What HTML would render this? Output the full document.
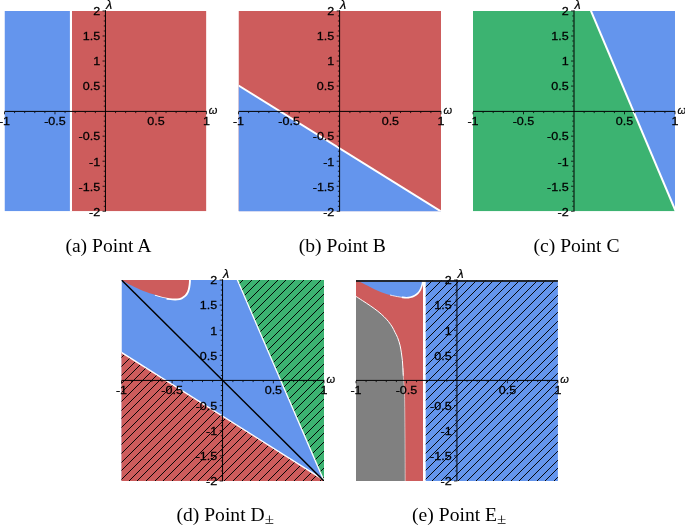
<!DOCTYPE html>
<html><head><meta charset="utf-8"><style>
html,body{margin:0;padding:0;background:#fff;width:685px;height:525px;overflow:hidden}
svg{position:absolute;left:0;top:0;display:block;will-change:transform}
.tk text{font-family:"Liberation Sans",sans-serif;font-size:11px;fill:#000;stroke:#000;stroke-width:0.25px}
.al{font-family:"Liberation Sans",sans-serif;font-style:italic;font-size:11px;fill:#000;stroke:#000;stroke-width:0.2px}
.cap{font-family:"Liberation Serif",serif;font-size:18px;fill:#000}
.sub{font-size:15.5px}
</style></head><body>
<svg width="685" height="525" viewBox="0 0 685 525">
<defs><clipPath id="ca"><rect x="4.5" y="10.95" width="201.9" height="200.35"/></clipPath><clipPath id="cb"><rect x="238.5" y="10.95" width="202.5" height="200.35"/></clipPath><clipPath id="cc"><rect x="473" y="10.95" width="202" height="200.35"/></clipPath><clipPath id="cd"><rect x="121.5" y="280" width="202.5" height="201"/></clipPath><clipPath id="ce"><rect x="356" y="280" width="201.9" height="201"/></clipPath><pattern id="hd" patternUnits="userSpaceOnUse" x="0" y="0" width="685" height="525"><path d="M-91 483L114 278M-82 483L123 278M-73 483L132 278M-64 483L141 278M-56 483L149 278M-47 483L158 278M-38 483L167 278M-30 483L175 278M-21 483L184 278M-12 483L193 278M-4 483L201 278M5 483L210 278M14 483L219 278M22 483L227 278M31 483L236 278M40 483L245 278M49 483L254 278M57 483L262 278M66 483L271 278M75 483L280 278M83 483L288 278M92 483L297 278M101 483L306 278M109 483L314 278M118 483L323 278M127 483L332 278M135 483L340 278M144 483L349 278M153 483L358 278M161 483L366 278M170 483L375 278M179 483L384 278M188 483L393 278M196 483L401 278M205 483L410 278M214 483L419 278M222 483L427 278M231 483L436 278M240 483L445 278M248 483L453 278M257 483L462 278M266 483L471 278M274 483L479 278M283 483L488 278M292 483L497 278M301 483L506 278M309 483L514 278M318 483L523 278M327 483L532 278" stroke="#000" stroke-width="0.95"/></pattern><pattern id="he" patternUnits="userSpaceOnUse" x="0" y="0" width="685" height="525"><path d="M144 483L349 278M152 483L357 278M161 483L366 278M170 483L375 278M178 483L383 278M187 483L392 278M196 483L401 278M204 483L409 278M213 483L418 278M222 483L427 278M230 483L435 278M239 483L444 278M248 483L453 278M257 483L462 278M265 483L470 278M274 483L479 278M283 483L488 278M291 483L496 278M300 483L505 278M309 483L514 278M317 483L522 278M326 483L531 278M335 483L540 278M343 483L548 278M352 483L557 278M361 483L566 278M370 483L575 278M378 483L583 278M387 483L592 278M396 483L601 278M404 483L609 278M413 483L618 278M422 483L627 278M430 483L635 278M439 483L644 278M448 483L653 278M456 483L661 278M465 483L670 278M474 483L679 278M483 483L688 278M491 483L696 278M500 483L705 278M509 483L714 278M517 483L722 278M526 483L731 278M535 483L740 278M543 483L748 278M552 483L757 278M561 483L766 278" stroke="#000" stroke-width="0.95"/></pattern></defs>
<g clip-path="url(#ca)"><rect x="4.5" y="10.95" width="66.45" height="200.35" fill="#6495ed"/><rect x="70.95" y="10.95" width="135.45" height="200.35" fill="#cd5c5c"/><line x1="70.95" y1="9.95" x2="70.95" y2="212.3" stroke="#fff" stroke-width="2.1"/></g><path d="M4.5 111.4H206.8M105.45 10.15V211.7" stroke="#000" stroke-width="1" fill="none"/><path d="M4.5 111.9v2.4M14.59 111.9v1.2M24.69 111.9v1.2M34.79 111.9v1.2M44.88 111.9v1.2M54.98 111.9v2.4M65.07 111.9v1.2M75.16 111.9v1.2M85.26 111.9v1.2M95.36 111.9v1.2M115.55 111.9v1.2M125.64 111.9v1.2M135.74 111.9v1.2M145.83 111.9v1.2M155.93 111.9v2.4M166.02 111.9v1.2M176.12 111.9v1.2M186.21 111.9v1.2M196.31 111.9v1.2M206.4 111.9v2.4M104.95 211.3h-2.4M104.95 206.29h-1.2M104.95 201.28h-1.2M104.95 196.27h-1.2M104.95 191.27h-1.2M104.95 186.26h-2.4M104.95 181.25h-1.2M104.95 176.24h-1.2M104.95 171.23h-1.2M104.95 166.22h-1.2M104.95 161.21h-2.4M104.95 156.2h-1.2M104.95 151.19h-1.2M104.95 146.19h-1.2M104.95 141.18h-1.2M104.95 136.17h-2.4M104.95 131.16h-1.2M104.95 126.15h-1.2M104.95 121.14h-1.2M104.95 116.13h-1.2M104.95 106.12h-1.2M104.95 101.11h-1.2M104.95 96.1h-1.2M104.95 91.09h-1.2M104.95 86.08h-2.4M104.95 81.07h-1.2M104.95 76.06h-1.2M104.95 71.06h-1.2M104.95 66.05h-1.2M104.95 61.04h-2.4M104.95 56.03h-1.2M104.95 51.02h-1.2M104.95 46.01h-1.2M104.95 41h-1.2M104.95 35.99h-2.4M104.95 30.98h-1.2M104.95 25.98h-1.2M104.95 20.97h-1.2M104.95 15.96h-1.2M104.95 10.95h-2.4" stroke="#000" stroke-width="0.8" fill="none"/><g class="tk"><text transform="translate(4.5 124.8) scale(1.14 1)" text-anchor="middle">-1</text><text transform="translate(54.98 124.8) scale(1.14 1)" text-anchor="middle">-0.5</text><text transform="translate(155.93 124.8) scale(1.14 1)" text-anchor="middle">0.5</text><text transform="translate(206.4 124.8) scale(1.14 1)" text-anchor="middle">1</text><text transform="translate(100.15 15.25) scale(1.14 1)" text-anchor="end">2</text><text transform="translate(100.15 40.29) scale(1.14 1)" text-anchor="end">1.5</text><text transform="translate(100.15 65.34) scale(1.14 1)" text-anchor="end">1</text><text transform="translate(100.15 90.38) scale(1.14 1)" text-anchor="end">0.5</text><text transform="translate(100.15 140.47) scale(1.14 1)" text-anchor="end">-0.5</text><text transform="translate(100.15 165.51) scale(1.14 1)" text-anchor="end">-1</text><text transform="translate(100.15 190.56) scale(1.14 1)" text-anchor="end">-1.5</text><text transform="translate(100.15 215.6) scale(1.14 1)" text-anchor="end">-2</text></g><text class="al" x="105.95" y="8.8" style="font-size:12.5px">&#955;</text><text class="al" x="208.8" y="113.8">&#969;</text>
<g clip-path="url(#cb)"><rect x="238.5" y="10.95" width="202.5" height="200.35" fill="#cd5c5c"/><polygon points="238.5,85.5 441,211.4 441,213.3 238.5,213.3" fill="#6495ed"/><line x1="238.5" y1="85.5" x2="441" y2="211.4" stroke="#fff" stroke-width="2"/></g><path d="M238.5 111.4H441.4M339.6 10.15V211.7" stroke="#000" stroke-width="1" fill="none"/><path d="M238.5 111.9v2.4M248.62 111.9v1.2M258.75 111.9v1.2M268.88 111.9v1.2M279 111.9v1.2M289.12 111.9v2.4M299.25 111.9v1.2M309.38 111.9v1.2M319.5 111.9v1.2M329.62 111.9v1.2M349.88 111.9v1.2M360 111.9v1.2M370.12 111.9v1.2M380.25 111.9v1.2M390.38 111.9v2.4M400.5 111.9v1.2M410.62 111.9v1.2M420.75 111.9v1.2M430.88 111.9v1.2M441 111.9v2.4M339.1 211.3h-2.4M339.1 206.29h-1.2M339.1 201.28h-1.2M339.1 196.27h-1.2M339.1 191.27h-1.2M339.1 186.26h-2.4M339.1 181.25h-1.2M339.1 176.24h-1.2M339.1 171.23h-1.2M339.1 166.22h-1.2M339.1 161.21h-2.4M339.1 156.2h-1.2M339.1 151.19h-1.2M339.1 146.19h-1.2M339.1 141.18h-1.2M339.1 136.17h-2.4M339.1 131.16h-1.2M339.1 126.15h-1.2M339.1 121.14h-1.2M339.1 116.13h-1.2M339.1 106.12h-1.2M339.1 101.11h-1.2M339.1 96.1h-1.2M339.1 91.09h-1.2M339.1 86.08h-2.4M339.1 81.07h-1.2M339.1 76.06h-1.2M339.1 71.06h-1.2M339.1 66.05h-1.2M339.1 61.04h-2.4M339.1 56.03h-1.2M339.1 51.02h-1.2M339.1 46.01h-1.2M339.1 41h-1.2M339.1 35.99h-2.4M339.1 30.98h-1.2M339.1 25.98h-1.2M339.1 20.97h-1.2M339.1 15.96h-1.2M339.1 10.95h-2.4" stroke="#000" stroke-width="0.8" fill="none"/><g class="tk"><text transform="translate(238.5 124.8) scale(1.14 1)" text-anchor="middle">-1</text><text transform="translate(289.12 124.8) scale(1.14 1)" text-anchor="middle">-0.5</text><text transform="translate(390.38 124.8) scale(1.14 1)" text-anchor="middle">0.5</text><text transform="translate(441 124.8) scale(1.14 1)" text-anchor="middle">1</text><text transform="translate(334.3 15.25) scale(1.14 1)" text-anchor="end">2</text><text transform="translate(334.3 40.29) scale(1.14 1)" text-anchor="end">1.5</text><text transform="translate(334.3 65.34) scale(1.14 1)" text-anchor="end">1</text><text transform="translate(334.3 90.38) scale(1.14 1)" text-anchor="end">0.5</text><text transform="translate(334.3 140.47) scale(1.14 1)" text-anchor="end">-0.5</text><text transform="translate(334.3 165.51) scale(1.14 1)" text-anchor="end">-1</text><text transform="translate(334.3 190.56) scale(1.14 1)" text-anchor="end">-1.5</text><text transform="translate(334.3 215.6) scale(1.14 1)" text-anchor="end">-2</text></g><text class="al" x="340.1" y="8.8" style="font-size:12.5px">&#955;</text><text class="al" x="443.4" y="113.8">&#969;</text>
<g clip-path="url(#cc)"><rect x="473" y="10.95" width="202" height="200.35" fill="#3cb371"/><polygon points="590.15,8.95 678,8.95 678,214.3 676.98,214.3" fill="#6495ed"/><line x1="590.15" y1="8.95" x2="676.98" y2="214.3" stroke="#fff" stroke-width="2"/></g><path d="M473 111.4H675.4M574 10.15V211.7" stroke="#000" stroke-width="1" fill="none"/><path d="M473 111.9v2.4M483.1 111.9v1.2M493.2 111.9v1.2M503.3 111.9v1.2M513.4 111.9v1.2M523.5 111.9v2.4M533.6 111.9v1.2M543.7 111.9v1.2M553.8 111.9v1.2M563.9 111.9v1.2M584.1 111.9v1.2M594.2 111.9v1.2M604.3 111.9v1.2M614.4 111.9v1.2M624.5 111.9v2.4M634.6 111.9v1.2M644.7 111.9v1.2M654.8 111.9v1.2M664.9 111.9v1.2M675 111.9v2.4M573.5 211.3h-2.4M573.5 206.29h-1.2M573.5 201.28h-1.2M573.5 196.27h-1.2M573.5 191.27h-1.2M573.5 186.26h-2.4M573.5 181.25h-1.2M573.5 176.24h-1.2M573.5 171.23h-1.2M573.5 166.22h-1.2M573.5 161.21h-2.4M573.5 156.2h-1.2M573.5 151.19h-1.2M573.5 146.19h-1.2M573.5 141.18h-1.2M573.5 136.17h-2.4M573.5 131.16h-1.2M573.5 126.15h-1.2M573.5 121.14h-1.2M573.5 116.13h-1.2M573.5 106.12h-1.2M573.5 101.11h-1.2M573.5 96.1h-1.2M573.5 91.09h-1.2M573.5 86.08h-2.4M573.5 81.07h-1.2M573.5 76.06h-1.2M573.5 71.06h-1.2M573.5 66.05h-1.2M573.5 61.04h-2.4M573.5 56.03h-1.2M573.5 51.02h-1.2M573.5 46.01h-1.2M573.5 41h-1.2M573.5 35.99h-2.4M573.5 30.98h-1.2M573.5 25.98h-1.2M573.5 20.97h-1.2M573.5 15.96h-1.2M573.5 10.95h-2.4" stroke="#000" stroke-width="0.8" fill="none"/><g class="tk"><text transform="translate(473 124.8) scale(1.14 1)" text-anchor="middle">-1</text><text transform="translate(523.5 124.8) scale(1.14 1)" text-anchor="middle">-0.5</text><text transform="translate(624.5 124.8) scale(1.14 1)" text-anchor="middle">0.5</text><text transform="translate(675 124.8) scale(1.14 1)" text-anchor="middle">1</text><text transform="translate(568.7 15.25) scale(1.14 1)" text-anchor="end">2</text><text transform="translate(568.7 40.29) scale(1.14 1)" text-anchor="end">1.5</text><text transform="translate(568.7 65.34) scale(1.14 1)" text-anchor="end">1</text><text transform="translate(568.7 90.38) scale(1.14 1)" text-anchor="end">0.5</text><text transform="translate(568.7 140.47) scale(1.14 1)" text-anchor="end">-0.5</text><text transform="translate(568.7 165.51) scale(1.14 1)" text-anchor="end">-1</text><text transform="translate(568.7 190.56) scale(1.14 1)" text-anchor="end">-1.5</text><text transform="translate(568.7 215.6) scale(1.14 1)" text-anchor="end">-2</text></g><text class="al" x="574.5" y="8.8" style="font-size:12.5px">&#955;</text><text class="al" x="677.4" y="113.8">&#969;</text>
<g clip-path="url(#cd)"><rect x="121.5" y="280" width="202.5" height="201" fill="#6495ed"/><path d="M155 294.8C155.97 295.08 158.85 296 160.8 296.5C162.75 297 164.75 297.48 166.7 297.8C168.65 298.12 171.53 298.3 172.5 298.4" fill="none" stroke="#fff" stroke-width="1.6"/><path d="M166.7 297.8C167.67 297.9 170.75 298.3 172.5 298.4C174.25 298.5 175.73 298.57 177.2 298.4C178.67 298.23 180.03 297.97 181.3 297.4C182.57 296.83 183.83 295.98 184.8 295C185.77 294.02 186.52 292.78 187.1 291.5C187.68 290.22 188 288.77 188.3 287.3C188.6 285.83 188.78 284.08 188.9 282.7C189.02 281.32 188.98 279.62 189 279" fill="none" stroke="#fff" stroke-width="3.8"/><path d="M121.5 279.8C121.63 279.87 120.6 279.23 122.3 280.2C124 281.17 128.18 283.8 131.7 285.6C135.22 287.4 139.52 289.47 143.4 291C147.28 292.53 152.1 293.88 155 294.8C157.9 295.72 158.85 296 160.8 296.5C162.75 297 164.75 297.48 166.7 297.8C168.65 298.12 170.75 298.3 172.5 298.4C174.25 298.5 175.73 298.57 177.2 298.4C178.67 298.23 180.03 297.97 181.3 297.4C182.57 296.83 183.83 295.98 184.8 295C185.77 294.02 186.52 292.78 187.1 291.5C187.68 290.22 188 288.77 188.3 287.3C188.6 285.83 188.78 284.08 188.9 282.7C189.02 281.32 188.98 279.62 189 279L189 278L121 278Z" fill="#cd5c5c"/><polygon points="119.5,351.12 326,481.42 326,483 119.5,483" fill="#cd5c5c"/><polygon points="119.5,351.12 326,481.42 326,483 119.5,483" fill="url(#hd)"/><polygon points="236.54,278 326,278 326,483 324.86,483" fill="#3cb371"/><polygon points="236.54,278 326,278 326,483 324.86,483" fill="url(#hd)"/><line x1="119.5" y1="351.12" x2="326" y2="481.42" stroke="#fff" stroke-width="1.4"/><line x1="236.54" y1="278" x2="324.86" y2="483" stroke="#fff" stroke-width="1.3"/><line x1="120.5" y1="279" x2="325" y2="482" stroke="#000" stroke-width="1.5"/></g><path d="M121.5 380.4H324.4M222.55 279.2V481.4" stroke="#000" stroke-width="1" fill="none"/><path d="M121.5 380.9v2.4M131.62 380.9v1.2M141.75 380.9v1.2M151.88 380.9v1.2M162 380.9v1.2M172.12 380.9v2.4M182.25 380.9v1.2M192.38 380.9v1.2M202.5 380.9v1.2M212.62 380.9v1.2M232.88 380.9v1.2M243 380.9v1.2M253.12 380.9v1.2M263.25 380.9v1.2M273.38 380.9v2.4M283.5 380.9v1.2M293.62 380.9v1.2M303.75 380.9v1.2M313.88 380.9v1.2M324 380.9v2.4M222.05 481h-2.4M222.05 475.98h-1.2M222.05 470.95h-1.2M222.05 465.93h-1.2M222.05 460.9h-1.2M222.05 455.88h-2.4M222.05 450.85h-1.2M222.05 445.82h-1.2M222.05 440.8h-1.2M222.05 435.77h-1.2M222.05 430.75h-2.4M222.05 425.73h-1.2M222.05 420.7h-1.2M222.05 415.68h-1.2M222.05 410.65h-1.2M222.05 405.62h-2.4M222.05 400.6h-1.2M222.05 395.57h-1.2M222.05 390.55h-1.2M222.05 385.52h-1.2M222.05 375.48h-1.2M222.05 370.45h-1.2M222.05 365.43h-1.2M222.05 360.4h-1.2M222.05 355.38h-2.4M222.05 350.35h-1.2M222.05 345.32h-1.2M222.05 340.3h-1.2M222.05 335.27h-1.2M222.05 330.25h-2.4M222.05 325.23h-1.2M222.05 320.2h-1.2M222.05 315.18h-1.2M222.05 310.15h-1.2M222.05 305.12h-2.4M222.05 300.1h-1.2M222.05 295.07h-1.2M222.05 290.05h-1.2M222.05 285.02h-1.2M222.05 280h-2.4" stroke="#000" stroke-width="0.8" fill="none"/><g class="tk"><text transform="translate(121.5 393.8) scale(1.14 1)" text-anchor="middle">-1</text><text transform="translate(172.12 393.8) scale(1.14 1)" text-anchor="middle">-0.5</text><text transform="translate(273.38 393.8) scale(1.14 1)" text-anchor="middle">0.5</text><text transform="translate(324 393.8) scale(1.14 1)" text-anchor="middle">1</text><text transform="translate(217.25 284.3) scale(1.14 1)" text-anchor="end">2</text><text transform="translate(217.25 309.43) scale(1.14 1)" text-anchor="end">1.5</text><text transform="translate(217.25 334.55) scale(1.14 1)" text-anchor="end">1</text><text transform="translate(217.25 359.68) scale(1.14 1)" text-anchor="end">0.5</text><text transform="translate(217.25 409.93) scale(1.14 1)" text-anchor="end">-0.5</text><text transform="translate(217.25 435.05) scale(1.14 1)" text-anchor="end">-1</text><text transform="translate(217.25 460.18) scale(1.14 1)" text-anchor="end">-1.5</text><text transform="translate(217.25 485.3) scale(1.14 1)" text-anchor="end">-2</text></g><text class="al" x="223.05" y="277.85" style="font-size:12.5px">&#955;</text><text class="al" x="326.4" y="382.8">&#969;</text>
<g clip-path="url(#ce)"><rect x="356" y="280" width="67.5" height="201" fill="#cd5c5c"/><path d="M357.5 280.5C357.97 280.73 358.77 281.1 360.3 281.9C361.83 282.7 364.67 284.23 366.7 285.3C368.73 286.37 370.55 287.35 372.5 288.3C374.45 289.25 376.45 290.17 378.4 291C380.35 291.83 382.27 292.63 384.2 293.3C386.13 293.97 388.07 294.5 390 295C391.93 295.5 393.85 295.92 395.8 296.3C397.75 296.68 399.93 297.07 401.7 297.3C403.47 297.53 404.95 297.72 406.4 297.7C407.85 297.68 409.05 297.53 410.4 297.2C411.75 296.87 413.23 296.38 414.5 295.7C415.77 295.02 417.02 294.12 418 293.1C418.98 292.08 419.77 290.78 420.4 289.6C421.03 288.42 421.42 287.18 421.8 286C422.18 284.82 422.5 283.58 422.7 282.5C422.9 281.42 422.95 280 423 279.5L423 279L357 279Z" fill="#6495ed"/><path d="M390 295C390.97 295.22 393.85 295.92 395.8 296.3C397.75 296.68 400.72 297.13 401.7 297.3" fill="none" stroke="#fff" stroke-width="0.8"/><path d="M401.7 297.3C402.48 297.37 404.95 297.72 406.4 297.7C407.85 297.68 409.05 297.53 410.4 297.2C411.75 296.87 413.23 296.38 414.5 295.7C415.77 295.02 417.02 294.12 418 293.1C418.98 292.08 419.77 290.78 420.4 289.6C421.03 288.42 421.42 287.18 421.8 286C422.18 284.82 422.5 283.58 422.7 282.5C422.9 281.42 422.95 280 423 279.5" fill="none" stroke="#fff" stroke-width="1.6"/><path d="M355.5 296.2C355.6 296.25 354.92 295.75 356.1 296.5C357.28 297.25 360.25 299.17 362.6 300.7C364.95 302.23 367.65 303.93 370.2 305.7C372.75 307.47 375.6 309.47 377.9 311.3C380.2 313.13 382.23 314.98 384 316.7C385.77 318.42 387.12 319.88 388.5 321.6C389.88 323.32 391.22 325.22 392.3 327C393.38 328.78 394.12 330.53 395 332.3C395.88 334.07 396.77 335.45 397.6 337.6C398.43 339.75 399.37 342.65 400 345.2C400.63 347.75 401 350.35 401.4 352.9C401.8 355.45 402.15 357.97 402.4 360.5C402.65 363.03 402.75 365.57 402.9 368.1C403.05 370.63 403.12 372.88 403.3 375.7C403.48 378.52 403.78 381.05 404 385C404.22 388.95 404.43 390.52 404.6 399.4C404.77 408.28 404.9 424.62 405 438.3C405.1 451.98 405.17 474.3 405.2 481.5L355 481.5Z" fill="#808080"/><path d="M355.5 296.2C355.6 296.25 354.92 295.75 356.1 296.5C357.28 297.25 360.25 299.17 362.6 300.7C364.95 302.23 367.65 303.93 370.2 305.7C372.75 307.47 375.6 309.47 377.9 311.3C380.2 313.13 382.23 314.98 384 316.7C385.77 318.42 387.12 319.88 388.5 321.6C389.88 323.32 391.22 325.22 392.3 327C393.38 328.78 394.12 330.53 395 332.3C395.88 334.07 396.77 335.45 397.6 337.6C398.43 339.75 399.37 342.65 400 345.2C400.63 347.75 401 350.35 401.4 352.9C401.8 355.45 402.15 357.97 402.4 360.5C402.65 363.03 402.75 365.57 402.9 368.1C403.05 370.63 403.23 374.43 403.3 375.7" fill="none" stroke="#fff" stroke-width="1.0"/><path d="M402.9 368.1C402.97 369.37 403.12 372.88 403.3 375.7C403.48 378.52 403.78 381.05 404 385C404.22 388.95 404.43 390.52 404.6 399.4C404.77 408.28 404.9 424.62 405 438.3C405.1 451.98 405.17 474.3 405.2 481.5" fill="none" stroke="#fff" stroke-opacity="0.75" stroke-width="0.7"/><rect x="423" y="280" width="2.7" height="201" fill="#fff"/><rect x="425.7" y="280" width="132.2" height="201" fill="#6495ed"/><rect x="425.7" y="280" width="132.2" height="201" fill="url(#he)"/></g>
<rect x="356" y="280.1" width="201.9" height="1.8" fill="#1c1c1c"/>
<path d="M356 380.4H558.3M456.95 279.2V481.4" stroke="#000" stroke-width="1" fill="none"/><path d="M356 380.9v2.4M366.09 380.9v1.2M376.19 380.9v1.2M386.29 380.9v1.2M396.38 380.9v1.2M406.48 380.9v2.4M416.57 380.9v1.2M426.66 380.9v1.2M436.76 380.9v1.2M446.86 380.9v1.2M467.05 380.9v1.2M477.14 380.9v1.2M487.24 380.9v1.2M497.33 380.9v1.2M507.42 380.9v2.4M517.52 380.9v1.2M527.62 380.9v1.2M537.71 380.9v1.2M547.8 380.9v1.2M557.9 380.9v2.4M456.45 481h-2.4M456.45 475.98h-1.2M456.45 470.95h-1.2M456.45 465.93h-1.2M456.45 460.9h-1.2M456.45 455.88h-2.4M456.45 450.85h-1.2M456.45 445.82h-1.2M456.45 440.8h-1.2M456.45 435.77h-1.2M456.45 430.75h-2.4M456.45 425.73h-1.2M456.45 420.7h-1.2M456.45 415.68h-1.2M456.45 410.65h-1.2M456.45 405.62h-2.4M456.45 400.6h-1.2M456.45 395.57h-1.2M456.45 390.55h-1.2M456.45 385.52h-1.2M456.45 375.48h-1.2M456.45 370.45h-1.2M456.45 365.43h-1.2M456.45 360.4h-1.2M456.45 355.38h-2.4M456.45 350.35h-1.2M456.45 345.32h-1.2M456.45 340.3h-1.2M456.45 335.27h-1.2M456.45 330.25h-2.4M456.45 325.23h-1.2M456.45 320.2h-1.2M456.45 315.18h-1.2M456.45 310.15h-1.2M456.45 305.12h-2.4M456.45 300.1h-1.2M456.45 295.07h-1.2M456.45 290.05h-1.2M456.45 285.02h-1.2M456.45 280h-2.4" stroke="#000" stroke-width="0.8" fill="none"/><g class="tk"><text transform="translate(356 393.8) scale(1.14 1)" text-anchor="middle">-1</text><text transform="translate(406.48 393.8) scale(1.14 1)" text-anchor="middle">-0.5</text><text transform="translate(507.42 393.8) scale(1.14 1)" text-anchor="middle">0.5</text><text transform="translate(557.9 393.8) scale(1.14 1)" text-anchor="middle">1</text><text transform="translate(451.65 284.3) scale(1.14 1)" text-anchor="end">2</text><text transform="translate(451.65 309.43) scale(1.14 1)" text-anchor="end">1.5</text><text transform="translate(451.65 334.55) scale(1.14 1)" text-anchor="end">1</text><text transform="translate(451.65 359.68) scale(1.14 1)" text-anchor="end">0.5</text><text transform="translate(451.65 409.93) scale(1.14 1)" text-anchor="end">-0.5</text><text transform="translate(451.65 435.05) scale(1.14 1)" text-anchor="end">-1</text><text transform="translate(451.65 460.18) scale(1.14 1)" text-anchor="end">-1.5</text><text transform="translate(451.65 485.3) scale(1.14 1)" text-anchor="end">-2</text></g><text class="al" x="457.45" y="277.85" style="font-size:12.5px">&#955;</text><text class="al" x="560.3" y="382.8">&#969;</text>
<text class="cap" transform="translate(108.4 251.9) scale(1.09 1)" text-anchor="middle">(a) Point A</text>
<text class="cap" transform="translate(342.3 251.9) scale(1.09 1)" text-anchor="middle">(b) Point B</text>
<text class="cap" transform="translate(576.5 251.9) scale(1.09 1)" text-anchor="middle">(c) Point C</text>
<text class="cap" transform="translate(225.2 521.1) scale(1.09 1)" text-anchor="middle">(d) Point D<tspan class="sub" dy="3">&#177;</tspan></text>
<text class="cap" transform="translate(459.2 521.1) scale(1.09 1)" text-anchor="middle">(e) Point E<tspan class="sub" dy="3">&#177;</tspan></text>
</svg>
</body></html>
